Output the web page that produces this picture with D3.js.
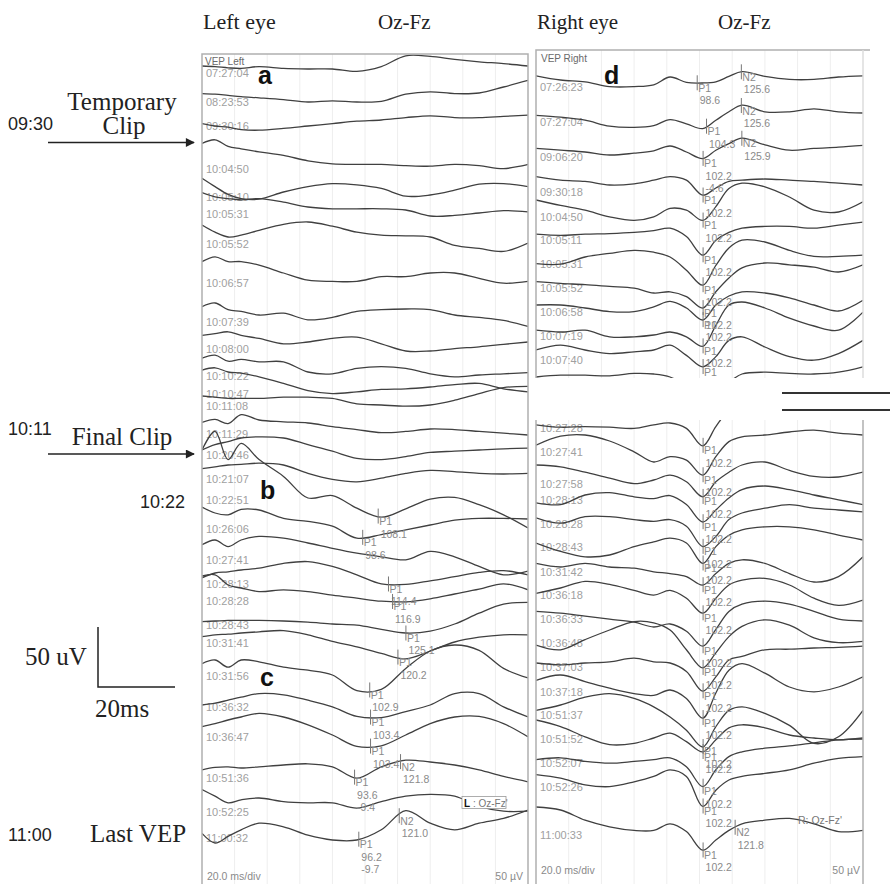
<!DOCTYPE html>
<html>
<head>
<meta charset="utf-8">
<script src="https://cdn.jsdelivr.net/npm/d3@7"></script>
<style>
  body { margin: 0; background: #fff; }
  svg { display: block; }
</style>
</head>
<body>
<div id="chart"></div>
<script>
// Page size
const WIDTH = 890;
const HEIGHT = 884;

// Amplitude scale: px per microvolt (50 uV bar = 60 px)
const UV_PX = 1.2;

// ---------- Data ----------
// Left eye (ms sample points)
const leftTimes = [0, 8, 16, 24, 35, 50, 65, 80, 95, 110, 125, 140, 155, 170, 185, 200];
const leftLabels = ["07:27:04", "08:23:53", "09:30:16", "10:04:50", "10:05:10", "10:05:31", "10:05:52",
  "10:06:57", "10:07:39", "10:08:00", "10:10:22", "10:10:47", "10:11:08", "10:11:29", "10:20:46",
  "10:21:07", "10:22:51", "10:26:06", "10:27:41", "10:28:13", "10:28:28", "10:28:43", "10:31:41",
  "10:31:56", "10:36:32", "10:36:47", "10:51:36", "10:52:25", "11:00:32"];
// trace offsets, uV below panel top
const leftOffsets = [16, 40, 60, 95.5, 119, 133.5, 158.5, 190.5, 223, 246, 268.5, 283, 293.5, 316.5, 334,
  354.5, 371.5, 396, 421.5, 441.5, 455.5, 476, 490.5, 518.5, 544, 569, 603.5, 632, 653.5];
// trace values, uV (positive up)
const leftTraces = [
  [6, 5.5, 4.5, 4, 5.5, 4, 3.5, 3.5, 1.5, 5.5, 14.5, 14, 11.5, 9.5, 8, 6],
  [7, 6.5, 5.5, 4.5, 3.5, 2, 0, 1, 0, 0.5, 6.5, 8.5, 7, 7.5, 12.5, 18],
  [2, 0, -1, -3, -3.5, -2, 0, 2, 4, 5, 7, 8.5, 7, 7, 8, 9],
  [21, 24, 18.5, 16.5, 14, 11, 6.5, 4, 3.5, 3.5, 2.5, 2, 3.5, 2.5, 0, 3.5],
  [15.5, 8.5, 2, -1.5, -2, 4, 8.5, 11, 10, 7, 0.5, 1.5, 5.5, 10.5, 11, 8.5],
  [18, 14.5, 13, 12, 13, 10, 6, 4.5, 4.5, 4.5, 3.5, -1.5, -1, 1, 3, 2],
  [16, 10, 6, 7.5, 11.5, 16.5, 18.5, 15, 10, 7.5, 7, 6, -1, -3.5, -6, 1],
  [17.5, 21.5, 17.5, 17.5, 14.5, 8, 2, 1, 1, 5, 5, 8, 8, 3.5, -0.5, 1],
  [12.5, 15.5, 10, 8.5, 5.5, 7, 1.5, 3.5, 8.5, 10, 10.5, 10, 5.5, 3.5, 1, -4],
  [11.5, 13, 14.5, 11.5, 9, 4.5, 6, 9, 10, 4.5, -1.5, -1.5, 0.5, 2, 4, 6],
  [15, 17.5, 12.5, 14, 12, 12, 3.5, 2, 6.5, 8, 6.5, 2, -0.5, 1, 2, 3],
  [19.5, 21.5, 18, 17, 14, 8.5, 2.5, 0, 1.5, 3.5, 4, 5.5, 7.5, 8.5, 4, 1.5],
  [8.5, 7.5, 6.5, 6.5, 6.5, 7.5, 7.5, 6.5, 2, 1, 0, 1, 5, 10.5, 15.5, 16.5],
  [9.5, 12, 8.5, 16, 11.5, 10, 9, 6, 3.5, 1, 2, 4, 3.5, 2, 0.5, -1],
  [4, 8.5, 11, 14, 15, 14, 8.5, 3, -3, -4, -1.5, 2, 3, 4, 5, 5.5],
  [9, 10.5, 12, 12.5, 13.5, 12, 5, 0, -2, 1, 5, 7.5, 6.5, 5, 4.5, 5],
  [41.5, 57, 33.5, 47, 33.5, 19.5, 1.5, 3.5, -7, -14.5, -7.5, 0.5, 2, -4, -12.5, -23.5],
  [18.5, 13.5, 12, 16.5, 16, 9, 6.5, 2.5, -7.5, -4.5, -0.5, 3.5, 7.5, 9, 9, 8.5],
  [12.5, 16.5, 11, 16.5, 19.5, 18, 14, 9.5, 5.5, 2.5, 0, 7, 2.5, -5.5, -12.5, -9.5],
  [5, 9, 10, 11.5, 13, 17, 18.5, 14.5, 7.5, 0, -0.5, 2.5, 6, 9.5, 11, 7.5],
  [20.5, 21.5, 13, 10.5, 7.5, 9, 7.5, 4.5, 2, -0.5, -1, 1.5, 5.5, 9.5, 14, 9],
  [3, 3.5, 4, 4, 4, 3.5, 2.5, 1, 0, -3.5, -6.5, -5, 1, 10, 17.5, 19],
  [5, 6.5, 7, 8, 9, 10, 6.5, 1, -3.5, -9, -13.5, -7, 0.5, 4.5, 6.5, 6.5],
  [10.5, 13.5, 7.5, 13.5, 12, 7.5, 5, 1, -12, -11, 6.5, 21, 26, 21.5, 6.5, -1.5],
  [1.5, 3, 5.5, 8, 11, 10, 5.5, 0, -8, -9, -4, 1.5, 11, 11, 0, -8.5],
  [8.5, 11, 14, 16.5, 19.5, 16.5, 10, 1.5, -8, -7.5, 1.5, 11, 16.5, 17, 11, 0],
  [7, 9, 9.5, 8.5, 9.5, 11, 12, 9.5, 0, 9.5, 15, 13.5, 11, 7, 1.5, -3],
  [19, 13.5, 8, 10.5, 12, 9, 8, 8, 3.5, 9, 13.5, 15, 13.5, 5, 1, 1],
  [4, -4, 1.5, 7, 12.5, 9.5, 2.5, -1.5, -1.5, 7, 23, 12.5, 7, 12.5, 16.5, 23.5]
];
// [trace index, peak, latency ms, amplitude uV]
const leftMarkers = [
  [16, "P1", 108.1], [17, "P1", 98.6], [19, "P1", 114.4], [20, "P1", 116.9], [21, "P1", 125.1],
  [22, "P1", 120.2], [23, "P1", 102.9], [24, "P1", 103.4], [25, "P1", 103.4],
  [26, "P1", 93.6, -9.4], [26, "N2", 121.8], [28, "P1", 96.2, -9.7], [28, "N2", 121.0]
];

// Right eye
const rightTimes = [0, 15, 30, 45, 60, 72, 82, 92, 102, 110, 118, 126, 140, 155, 170, 185, 200];
const rightTopLabels = ["07:26:23", "07:27:04", "09:06:20", "09:30:18", "10:04:50", "10:05:11",
  "10:05:31", "10:05:52", "10:06:58", "10:07:19", "10:07:40", ""];
const rightTopOffsets = [30.5, 60, 89, 118, 139, 158, 178.5, 198.5, 218, 238.5, 258.5, 278.5];
const rightTopTraces = [
  [9, 5.5, 4, 0, 0, 1.5, 8, 3.5, 3, 4, 8.5, 12.5, 8.5, 6, 6, 8, 9],
  [5.5, 4, 1.5, -3.5, -4.5, -3, 2, -1.5, -5.5, 1.5, 8.5, 14, 8.5, 8.5, 11, 8.5, 7.5],
  [7, 5.5, 4, 1.5, 3, 5, 9, 4, -1.5, 5.5, 11, 15.5, 10, 5.5, 7, 8, 9.5],
  [12.5, 9.5, 8.5, 5.5, 6.5, 9.5, 12.5, 9.5, -3, 3, 8.5, 9.5, 10.5, 9.5, 8.5, 7, 5.5],
  [14, 9.5, 5.5, 0, -3, 0, 7, 5.5, -3, 8.5, 23.5, 28, 25, 16.5, 5.5, 4, 12.5],
  [4.5, 3.5, 4.5, 5, 6, 7.5, 9.5, 2.5, -13, -0.5, 6, 9.5, 11, 11, 9.5, 12, 14.5],
  [0.5, 0, 6, 9, 11.5, 10, 6, -5, -17.5, -1, 13.5, 20, 18.5, 11.5, 6.5, 6.5, 7.5],
  [5.5, 4, 3, 1.5, 0, -4, -3, -7, -16.5, -3, 8.5, 17, 21, 19.5, 17.5, 13.5, 19.5],
  [5.5, 5.5, 3, 0, 0, 4, 8.5, 3, -7, 5.5, 13, 16.5, 15.5, 11.5, 5.5, 0.5, 9.5],
  [5, 3.5, 5, -0.5, -0.5, 1, 3.5, -0.5, -8.5, 9, 26, 28.5, 23.5, 15, 8.5, 5, 20],
  [8.5, 12.5, 8.5, 5.5, 7, 8.5, 12.5, 4, -5.5, 3, 16.5, 19.5, 11, 3, 0, 5.5, 16.5],
  [6, 7.5, 7.5, 7, 9, 8.5, 6, -1.5, -11.5, -8.5, 1.5, 8.5, 10, 9, 8.5, 10, 14.5]
];
const rightTopMarkers = [
  [0, "P1", 98.6], [0, "N2", 125.6], [1, "P1", 104.3], [1, "N2", 125.6],
  [2, "P1", 102.2, -4.6], [2, "N2", 125.9], [3, "P1", 102.2], [4, "P1", 102.2], [5, "P1", 102.2],
  [6, "P1", 102.2], [7, "P1", 102.2], [8, "P1", 102.2], [9, "P1", 102.2], [10, "P1", 102.2]
];

const rightBottomLabels = ["10:27:28", "10:27:41", "10:27:58", "10:28:13", "10:28:28", "10:28:43",
  "10:31:42", "10:36:18", "10:36:33", "10:36:48", "10:37:03", "10:37:18", "10:51:37", "10:51:52",
  "10:52:07", "10:52:26", "11:00:33"];
const rightBottomOffsets = [7, 26.5, 53.5, 66.5, 86.5, 106, 126.5, 146, 166, 186, 206, 226.5, 246,
  266, 286, 305.5, 346];
const rightBottomTraces = [
  [3, 1, 1.5, 1, 0, 3, 4.5, 0, -14.5, 1.5, 15, 19, 19, 19, 19, 19, 19],
  [5.5, 13, 14, 9, 0, -8.5, -4, -7, -19.5, -4, 8.5, 12.5, 14, 16.5, 18, 15.5, 14],
  [16, 14.5, 10, 5, 0.5, 3.5, 7.5, 2, -10.5, 2, 10, 16, 18.5, 11.5, 6.5, 6, 10],
  [-2.5, -4, 4, 6, 2.5, 1, 3.5, -4, -18.5, -8.5, 1.5, 8.5, 11.5, 8.5, 4, 0, -4],
  [5, 0.5, 6, 6, 3.5, 2, 3.5, -2, -19, -10.5, 3.5, 9, 13, 16, 13, 11.5, 10],
  [3.5, -3.5, -8, -6.5, 0.5, 4.5, 7.5, 3.5, -13.5, 0.5, 10, 14.5, 17, 17, 14.5, 10, 6],
  [7, 4, 7, 4, 3, 0, -1.5, -4, -11, -1.5, 7, 10, 7, -1.5, -8.5, -4, 12.5],
  [1.5, 6, 11.5, 9, 4, 0, 4, -2.5, -15, -2.5, 8.5, 12.5, 14, 8.5, -2.5, -8.5, -4],
  [6.5, 5, 2.5, 0, -2.5, -6.5, -4, -10, -22.5, -8.5, 6.5, 12.5, 15, 12.5, 6.5, 0, -1.5],
  [-1.5, -5.5, 3, 11, 18, 17, 11, -5.5, -20.5, -8, 5.5, 14, 19.5, 15, 4.5, 0.5, 1.5],
  [3.5, 2, 3.5, 4.5, 7.5, 4.5, 3.5, -3.5, -20, -8, 6, 9, 14.5, 15, 16, 16.5, 17.5],
  [9.5, 14, 8.5, 3, -1.5, -3, 1.5, -5.5, -22, -1, 18, 23.5, 15.5, 4, 0, 4, 12.5],
  [4, 8.5, 15, 18, 14, 7, -1.5, -12.5, -26.5, -9.5, 4, 7, 1.5, -8.5, -23.5, -18, 4],
  [16, 10.5, 2, -4.5, -3.5, 1, 5, -2, -10.5, -0.5, 9.5, 12, 9.5, 3.5, 1, -0.5, 1],
  [3, 4.5, 1.5, 0, 1.5, 3, 4.5, -3, -19.5, -5.5, 5.5, 9.5, 12.5, 14.5, 17, 19.5, 20],
  [10, 7, 1.5, 0, 4, 8.5, 14, 8.5, -16.5, -3, 5.5, 8.5, 11, 14, 19.5, 23.5, 25],
  [23.5, 21, 12.5, 7, 4, 4, 9.5, 3, -12.5, -4, 4, 9.5, 12.5, 14, 9.5, 3, 4]
];
const rightBottomMarkers = d3.range(17).map((i) => [i, "P1", 102.2]).concat([[16, "N2", 121.8]]);

// ---------- Layout ----------
const svg = d3
  .select("#chart")
  .append("svg")
  .attr("width", WIDTH)
  .attr("height", HEIGHT);

const TRACE_COLOR = "#404040";
const LABEL_COLOR = "#a0a0a0";
const FRAME_COLOR = "#b0b0b0";
const SANS = "'Liberation Sans', Arial, sans-serif";
const SERIF = "'Liberation Serif', 'Times New Roman', serif";

const panels = [
  { id: "left", x0: 202, x1: 528, top: 54, bottom: 884, times: leftTimes, labels: leftLabels,
    offsets: leftOffsets, traces: leftTraces, markers: leftMarkers },
  { id: "rtop", x0: 536, x1: 863, top: 50, bottom: 378, times: rightTimes, labels: rightTopLabels,
    offsets: rightTopOffsets, traces: rightTopTraces, markers: rightTopMarkers },
  { id: "rbot", x0: 536, x1: 863, top: 420, bottom: 884, times: rightTimes, labels: rightBottomLabels,
    offsets: rightBottomOffsets, traces: rightBottomTraces, markers: rightBottomMarkers }
];

const defs = svg.append("defs");

defs
  .append("marker")
  .attr("id", "arrow")
  .attr("viewBox", "0 0 10 10")
  .attr("refX", 9)
  .attr("refY", 5)
  .attr("markerWidth", 10)
  .attr("markerHeight", 9)
  .attr("markerUnits", "userSpaceOnUse")
  .attr("orient", "auto")
  .append("path")
  .attr("d", "M0,0L10,5L0,10z")
  .attr("fill", "#222");

panels.forEach((p) => {
  defs
    .append("clipPath")
    .attr("id", "clip-" + p.id)
    .append("rect")
    .attr("x", p.x0)
    .attr("y", p.top)
    .attr("width", p.x1 - p.x0)
    .attr("height", p.bottom - p.top);

  const x = d3.scaleLinear().domain([0, 200]).range([p.x0, p.x1]);
  const y = d3
    .scaleLinear()
    .domain([0, (p.bottom - p.top) / UV_PX])
    .range([p.top, p.bottom]);

  const g = svg.append("g").attr("clip-path", "url(#clip-" + p.id + ")");

  // faint 20 ms grid
  g.selectAll("line.grid")
    .data(d3.range(20, 200, 20))
    .enter()
    .append("line")
    .attr("x1", (d) => x(d))
    .attr("x2", (d) => x(d))
    .attr("y1", p.top)
    .attr("y2", p.bottom)
    .attr("stroke", "#eeeeee")
    .attr("stroke-width", 1);

  // time labels
  g.selectAll("text.lab")
    .data(p.labels)
    .enter()
    .append("text")
    .attr("x", p.x0 + 4)
    .attr("y", (d, i) => y(p.offsets[i]))
    .attr("dy", "0.36em")
    .attr("font-family", SANS)
    .attr("font-size", 11)
    .attr("fill", LABEL_COLOR)
    .text((d) => d);

  // traces
  const line = d3
    .line()
    .x((d) => x(d[0]))
    .y((d) => d[1])
    .curve(d3.curveCatmullRom.alpha(0.5));

  g.selectAll("path.trace")
    .data(p.traces)
    .enter()
    .append("path")
    .attr("d", (vals, i) => line(vals.map((v, k) => [p.times[k], y(p.offsets[i] - v)])))
    .attr("fill", "none")
    .attr("stroke", TRACE_COLOR)
    .attr("stroke-width", 1.3);

  // peak markers
  p.markers.forEach((m) => {
    const [ti, name, lat, amp] = m;
    const interp = d3.scaleLinear().domain(p.times).range(p.traces[ti]);
    const mx = x(lat);
    const my = y(p.offsets[ti] - interp(lat));
    g.append("line")
      .attr("x1", mx)
      .attr("x2", mx)
      .attr("y1", my - 7.5)
      .attr("y2", my + 7.5)
      .attr("stroke", "#777")
      .attr("stroke-width", 1);
    const lines = [name, lat.toFixed(1)];
    if (amp !== undefined) lines.push(amp.toFixed(1));
    lines.forEach((s, k) => {
      g.append("text")
        .attr("x", mx + (k === 0 ? 1 : 2.5))
        .attr("y", my + 9 + k * 12.5)
        .attr("font-family", SANS)
        .attr("font-size", 10.5)
        .attr("fill", "#8a8a8a")
        .text(s);
    });
  });
});

// ---------- Frames ----------
const frame = svg.append("g").attr("stroke", FRAME_COLOR).attr("stroke-width", 1.5).attr("fill", "none");
frame.append("path").attr("d", "M202,884V54H528V884");
frame.append("path").attr("d", "M536,378V50H870");
frame.append("path").attr("d", "M863,50V378").attr("stroke", "#dddddd");
frame.append("path").attr("d", "M536,420V884M863,420V884");

// gap lines on the right
svg.append("g")
  .selectAll("line")
  .data([393, 410])
  .enter()
  .append("line")
  .attr("x1", 782)
  .attr("x2", 890)
  .attr("y1", (d) => d)
  .attr("y2", (d) => d)
  .attr("stroke", "#333")
  .attr("stroke-width", 2);

// panel captions
const cap = (x, y, s, anchor, color, size) =>
  svg
    .append("text")
    .attr("x", x)
    .attr("y", y)
    .attr("text-anchor", anchor || "start")
    .attr("font-family", SANS)
    .attr("font-size", size || 10)
    .attr("fill", color || "#777")
    .text(s);

cap(205, 65, "VEP Left", "start", "#6a6a6a");
cap(541, 62, "VEP Right", "start", "#6a6a6a");
cap(207, 880, "20.0 ms/div", "start", "#8a8a8a", 10.5);
cap(523, 880, "50 \u00b5V", "end", "#8a8a8a", 10.5);
cap(541, 874, "20.0 ms/div", "start", "#8a8a8a", 10.5);
cap(860, 874, "50 \u00b5V", "end", "#8a8a8a", 10.5);

// L / R channel tags
svg.append("rect")
  .attr("x", 462)
  .attr("y", 796.5)
  .attr("width", 44)
  .attr("height", 12)
  .attr("fill", "#fff")
  .attr("stroke", "#999")
  .attr("stroke-width", 0.8);
const lTag = svg.append("text").attr("x", 464).attr("y", 806.5).attr("font-family", SANS).attr("font-size", 10);
lTag.append("tspan").attr("fill", "#111").attr("font-weight", "bold").text("L");
lTag.append("tspan").attr("fill", "#777").text(" : Oz-Fz'");
cap(798, 824, "R: Oz-Fz'", "start", "#777", 10.5);

// panel letters
[["a", 258, 84], ["d", 604, 84], ["b", 260, 499], ["c", 260, 686]].forEach((d) =>
  svg
    .append("text")
    .attr("x", d[1])
    .attr("y", d[2])
    .attr("font-family", SANS)
    .attr("font-weight", "bold")
    .attr("font-size", 25)
    .attr("fill", "#111")
    .text(d[0])
);

// ---------- Outer annotations ----------
const serif = (x, y, s, size, anchor) =>
  svg
    .append("text")
    .attr("x", x)
    .attr("y", y)
    .attr("text-anchor", anchor || "start")
    .attr("font-family", SERIF)
    .attr("font-size", size)
    .attr("fill", "#222")
    .text(s);

serif(203, 29, "Left eye", 22);
serif(378, 29, "Oz-Fz", 21);
serif(537, 29, "Right eye", 21);
serif(718, 29, "Oz-Fz", 21);
serif(122, 110, "Temporary", 25, "middle");
serif(124, 134, "Clip", 25, "middle");
serif(122, 445, "Final Clip", 25, "middle");
serif(25, 665, "50 uV", 25);
serif(95, 717, "20ms", 25);
serif(90, 842, "Last VEP", 25);

const sans = (x, y, s) =>
  svg
    .append("text")
    .attr("x", x)
    .attr("y", y)
    .attr("font-family", SANS)
    .attr("font-size", 18)
    .attr("fill", "#222")
    .text(s);

sans(8, 130, "09:30");
sans(8, 435, "10:11");
sans(140, 508, "10:22");
sans(8, 841, "11:00");

// clip arrows
svg.append("g")
  .selectAll("line")
  .data([142.5, 454])
  .enter()
  .append("line")
  .attr("x1", 48)
  .attr("x2", 194)
  .attr("y1", (d) => d)
  .attr("y2", (d) => d)
  .attr("stroke", "#222")
  .attr("stroke-width", 1.5)
  .attr("marker-end", "url(#arrow)");

// scale bar: 50 uV vertical, 20 ms horizontal
const SCALE_UV = 50;
const SCALE_MS = 20;
const barX = d3.scaleLinear().domain([0, SCALE_MS]).range([98, 175]);
const barY = d3.scaleLinear().domain([0, SCALE_UV]).range([687, 687 - SCALE_UV * UV_PX]);
svg.append("path")
  .attr("d", "M" + barX(0) + "," + barY(SCALE_UV) + "V" + barY(0) + "H" + barX(SCALE_MS))
  .attr("fill", "none")
  .attr("stroke", "#222")
  .attr("stroke-width", 1.5);
</script>
</body>
</html>
